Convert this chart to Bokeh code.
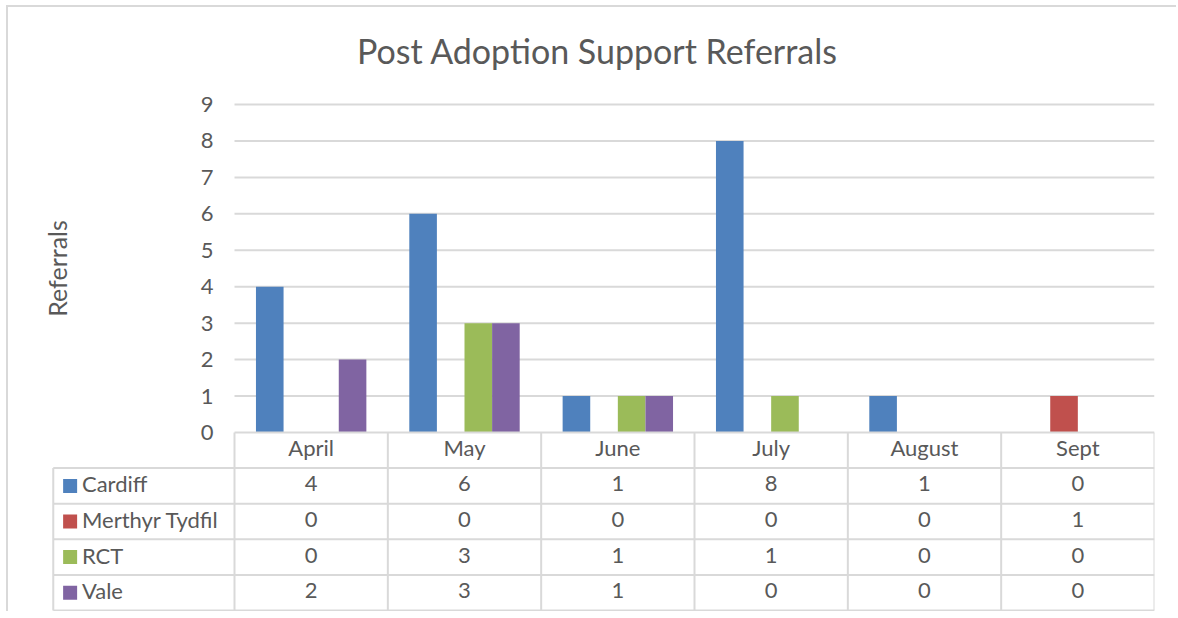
from math import pi
from bokeh.plotting import figure
from bokeh.models import Range1d, FixedTicker, ColumnDataSource
from bokeh.transform import dodge
from bokeh.core.properties import value
from bokeh.embed import file_html
from bokeh.resources import INLINE

# ---- data ----
months = ["April", "May", "June", "July", "August", "Sept"]
series = ["Cardiff", "Merthyr Tydfil", "RCT", "Vale"]
cardiff = [4, 6, 1, 8, 1, 0]
merthyr_tydfil = [0, 0, 0, 0, 0, 1]
rct = [0, 3, 1, 1, 0, 0]
vale = [2, 3, 1, 0, 0, 0]
colors = ["#4F81BD", "#C0504D", "#9BBB59", "#8064A2"]
y_ticks = [0, 1, 2, 3, 4, 5, 6, 7, 8, 9]
title_text = "Post Adoption Support Referrals"
y_label = "Referrals"

values = [cardiff, merthyr_tydfil, rct, vale]

# ---- style ----
FONT = "Lato"
TXT = "#595959"
GRID = "#d9d9d9"
FS = "22px"
ROW = 0.977         # table row height (data units)
LEG_X = -1.182      # left edge of the legend column
BAR_W = 0.18

n = len(months)
centers = [i + 0.5 for i in range(n)]
n_rows = len(series) + 1
row_centers = [-ROW * (r + 1.5) for r in range(len(series))]

p = figure(width=1170, height=606,
           x_range=Range1d(-1.2652, n), y_range=Range1d(-4.939, 9.549),
           output_backend="svg", toolbar_location=None,
           min_border_left=32, min_border_right=24,
           min_border_top=77, min_border_bottom=1,
           title=title_text)
p.styles = {"margin-left": "6px", "margin-top": "5px",
            "border-left": "2px solid #d9d9d9", "border-top": "2px solid #d9d9d9"}
p.outline_line_color = None
p.xgrid.visible = False
p.ygrid.visible = False

p.title.align = "center"
p.title.text_font = FONT
p.title.text_font_size = "34px"
p.title.text_font_style = "normal"
p.title.text_color = TXT
p.title.standoff = 28

# gridlines (0..9 value axis)
p.segment(x0=0, x1=n, y0=y_ticks[1:], y1=y_ticks[1:], line_color=GRID, line_width=2)

# bars
for k, (name, vals, col) in enumerate(zip(series, values, colors)):
    src = ColumnDataSource(dict(x=centers, top=vals))
    off = (k - (len(series) - 1) / 2) * BAR_W
    p.vbar(x=dodge("x", off), top="top", bottom=0, width=BAR_W, source=src,
           fill_color=col, line_color=None)

# data table lines
h_ys = [-ROW * (r + 1) for r in range(n_rows)]
p.segment(x0=LEG_X, x1=n, y0=h_ys, y1=h_ys, line_color=GRID, line_width=2)
v_xs = list(range(n + 1))
p.segment(x0=v_xs, x1=v_xs, y0=0, y1=-ROW * n_rows, line_color=GRID, line_width=2)
p.segment(x0=[LEG_X], x1=[LEG_X], y0=[-ROW], y1=[-ROW * n_rows], line_color=GRID, line_width=2)

# legend keys and names
p.scatter(x=[LEG_X + 0.11] * len(series), y=row_centers, marker="square", size=14,
          fill_color=colors, line_color=None)
p.text(x=[LEG_X + 0.187] * len(series), y=row_centers, text=series,
       text_font=value(FONT), text_font_size=FS, text_color=TXT,
       text_align="left", text_baseline="middle", y_offset=-2)

# table values
for r, vals in enumerate(values):
    p.text(x=centers, y=[row_centers[r]] * n, text=[str(v) for v in vals],
           text_font=value(FONT), text_font_size=FS, text_color=TXT,
           text_align="center", text_baseline="middle", y_offset=-2)

# y label
p.text(x=[-1.155], y=[4.5], text=[y_label], angle=pi / 2,
       text_font=value(FONT), text_font_size="25px", text_color=TXT,
       text_align="center", text_baseline="middle")

# x axis (month header row)
xa = p.xaxis[0]
xa.fixed_location = 0
xa.bounds = (0, n)
xa.ticker = FixedTicker(ticks=centers, minor_ticks=[])
xa.major_label_overrides = {c: m for c, m in zip(centers, months)}
xa.major_tick_line_color = None
xa.major_tick_out = 0
xa.major_tick_in = 0
xa.minor_tick_line_color = None
xa.axis_line_color = GRID
xa.axis_line_width = 2
xa.major_label_standoff = 1
xa.major_label_text_font = FONT
xa.major_label_text_font_size = FS
xa.major_label_text_color = TXT

# y axis
ya = p.yaxis[0]
ya.fixed_location = 0
ya.ticker = FixedTicker(ticks=y_ticks, minor_ticks=[])
ya.axis_line_color = None
ya.major_tick_line_color = None
ya.minor_tick_line_color = None
ya.major_tick_out = 0
ya.major_tick_in = 0
ya.major_label_standoff = 21
ya.major_label_text_font = FONT
ya.major_label_text_font_size = FS
ya.major_label_text_color = TXT

open("out.html", "w").write(file_html(p, INLINE))
